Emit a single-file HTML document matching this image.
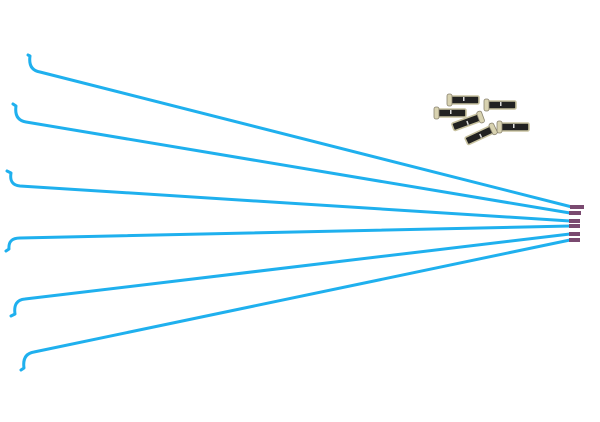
<!DOCTYPE html>
<html><head><style>html,body{margin:0;padding:0;background:#fff;width:600px;height:422px;overflow:hidden}</style></head>
<body>
<svg width="600" height="422" viewBox="0 0 600 422" xmlns="http://www.w3.org/2000/svg">
<defs>
<g id="nip">
<rect x="-15" y="-4" width="30" height="8" rx="1.5" fill="#222" stroke="#c8c2a0" stroke-width="1.6"/>
<rect x="-17" y="-6" width="5" height="12" rx="2" fill="#d8d2b0" stroke="#8a8470" stroke-width="0.8"/>
<rect x="-1" y="-3" width="1.5" height="4" fill="#ddd"/>
</g>
</defs>
<g fill="none" stroke="#1fb0ee" stroke-width="3" stroke-linecap="round" stroke-linejoin="round">
<path d="M28 55 L30 56 Q28 70 40 72 L572 207"/>
<path d="M13 104 L16 106 Q14 120 26 122 L570 213"/>
<path d="M7 171 L11 173 Q9 185 20 186 L570 221"/>
<path d="M6 251 L9 249 Q8 238 20 238 L570 226"/>
<path d="M11 316 L15 314 Q13 300 25 299 L570 234"/>
<path d="M21 370 L24 368 Q22 354 34 352 L570 240"/>
</g>
<g stroke="#7a4a70" stroke-width="4">
<line x1="570" y1="207" x2="584" y2="207"/>
<line x1="569" y1="213" x2="581" y2="213"/>
<line x1="569" y1="221" x2="580" y2="221"/>
<line x1="569" y1="226" x2="580" y2="226"/>
<line x1="569" y1="234" x2="580" y2="234"/>
<line x1="569" y1="240" x2="580" y2="240"/>
</g>
<use href="#nip" transform="translate(464,100)"/>
<use href="#nip" transform="translate(501,105)"/>
<use href="#nip" transform="translate(451,113)"/>
<use href="#nip" transform="translate(467,122) rotate(160)"/>
<use href="#nip" transform="translate(514,127)"/>
<use href="#nip" transform="translate(480,135) rotate(155)"/>
</svg>
</body></html>
